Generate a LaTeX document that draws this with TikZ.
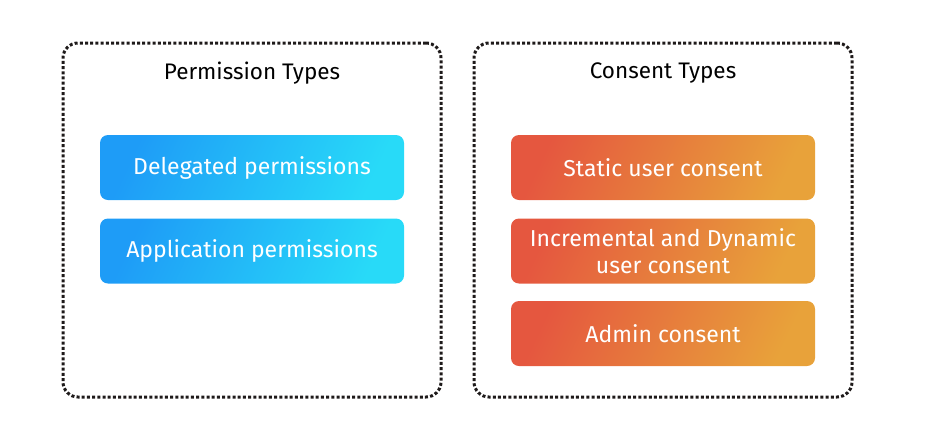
\documentclass[tikz,border=0pt]{standalone}
\usepackage{fontspec}
\setmainfont{Fira Sans}
\definecolor{frame}{HTML}{1E1A1A}
\definecolor{blueA}{HTML}{1E9CF7}
\definecolor{blueB}{HTML}{28DAF8}
\definecolor{orangeA}{HTML}{E5573F}
\definecolor{orangeB}{HTML}{E8A23A}
\tikzset{
  group/.style={draw=frame, line width=3pt, dash pattern=on 3pt off 2.2pt, rounded corners=15pt, minimum width=378pt, minimum height=354pt, inner sep=0pt},
  title/.style={font=\fontsize{22.5pt}{26pt}\selectfont, text=black},
  bluebox/.style={rounded corners=8pt, minimum width=304pt, minimum height=65pt, inner sep=0pt, top color=blueA, bottom color=blueB, shading angle=65, text=white, font=\fontsize{23pt}{27pt}\selectfont, align=center},
  orangebox/.style={rounded corners=8pt, minimum width=304pt, minimum height=65pt, inner sep=0pt, top color=orangeA, bottom color=orangeB, shading angle=65, text=white, font=\fontsize{23pt}{27pt}\selectfont, align=center},
}
\begin{document}
\begin{tikzpicture}[x=1pt,y=-1pt]
\useasboundingbox (0,0) rectangle (933,429);
\node[group] (left) at (252,220) {};
\node[group] (right) at (663,220) {};
\node[title] (lt) at (252,73) {Permission Types};
\node[title] (rt) at (663,73) {Consent Types};
\node[bluebox] (del) at (252,167.5) {Delegated permissions};
\node[bluebox] (app) at (252,251) {Application permissions};
\node[orangebox] (stat) at (663,167.5) {Static user consent};
\node[orangebox] (inc) at (663,251) {Incremental and Dynamic\\user consent};
\node[orangebox] (adm) at (663,333.5) {Admin consent};
\end{tikzpicture}
\end{document}
